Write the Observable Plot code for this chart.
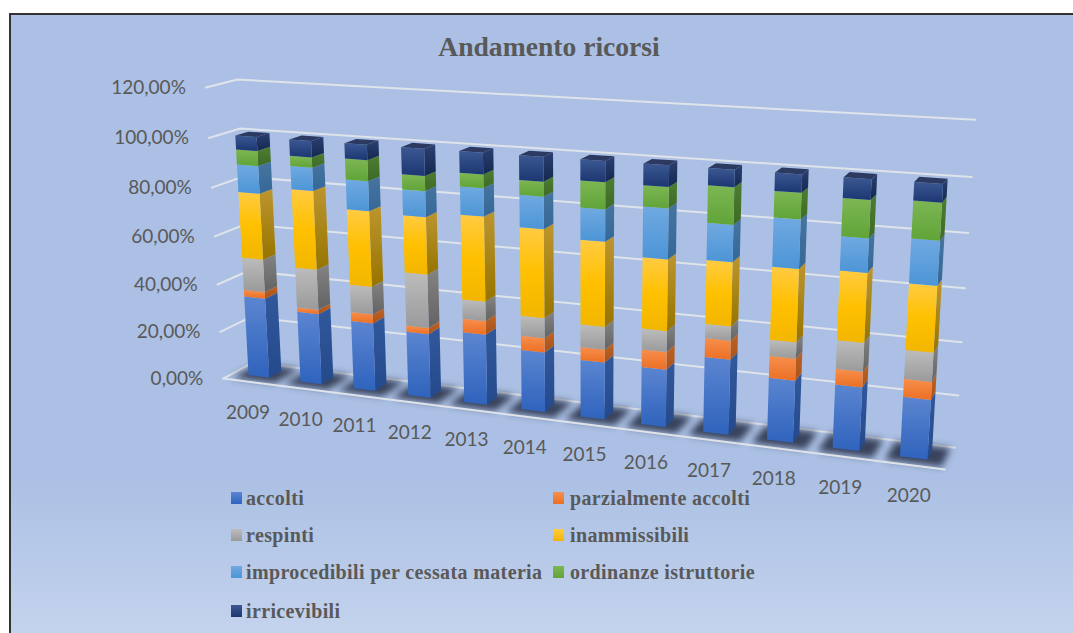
<!DOCTYPE html>
<html><head><meta charset="utf-8">
<script src="https://cdn.jsdelivr.net/npm/d3@7"></script>
<script src="https://cdn.jsdelivr.net/npm/@observablehq/plot@0.6"></script>
<style>
html,body{margin:0;padding:0;background:#fff}
#frame{position:absolute;left:9px;top:13px;width:1064px;height:620px;box-sizing:border-box;border-left:2px solid #333;border-top:2px solid #333;background:linear-gradient(180deg,#abc0e4 0%,#abc0e4 75%,#c4d3ed 100%)}
#chart{position:absolute;left:0;top:0}
#title{position:absolute;left:0;width:1098px;top:31px;text-align:center;font:bold 27.6px "Liberation Serif";color:#595959}
.lg{position:absolute;font:bold 20px "Liberation Serif";letter-spacing:.37px;color:#595959;white-space:nowrap}
.sw{position:absolute;width:11px;height:12px}
</style></head><body>
<div id="frame"></div><div id="chart"></div><div id="title">Andamento ricorsi</div><div id="legend"></div>
<script>
const years=[2009,2010,2011,2012,2013,2014,2015,2016,2017,2018,2019,2020];
const accolti=[33.7,29.6,28.2,26.3,28.6,24.0,22.7,22.6,29.2,23.9,24.2,22.4];
const parzialmente=[2.8,1.8,3.7,2.5,5.5,5.7,5.1,6.9,7.3,8.4,5.9,6.7];
const respinti=[13.5,16.6,11.3,21.6,7.7,8.0,8.9,8.1,5.4,6.1,10.7,10.7];
const inammissibili=[27.2,32.1,30.6,22.9,33.6,34.7,32.9,27.4,24.2,27.3,25.7,24.2];
const improcedibili=[11.2,9.3,11.9,10.2,11.0,12.5,12.3,19.1,13.8,18.1,12.4,16.1];
const ordinanze=[6.1,4.1,8.3,5.9,5.3,5.7,10.2,7.9,13.8,9.6,13.7,13.4];
const irricevibili=[5.6,6.5,6.0,10.6,8.3,9.4,7.9,8.0,6.3,6.6,7.4,6.5];
const yTicks=[0,20,40,60,80,100,120];
const tickLabels=["0,00%","20,00%","40,00%","60,00%","80,00%","100,00%","120,00%"];
const names=["accolti","parzialmente accolti","respinti","inammissibili","improcedibili per cessata materia","ordinanze istruttorie","irricevibili"];
const seriesValues=[accolti,parzialmente,respinti,inammissibili,improcedibili,ordinanze,irricevibili];
const frontStops=[["#5b85d0","#2f63bd"],["#f78f4c","#ec6f24"],["#bcbcbc","#9a9a9a"],["#ffcb42","#ffc000","#f2b600"],["#70a9e1","#4c95d6"],["#7db653","#60a438"],["#3c5892","#1b3670"]];
const sideStops=[["#32589c","#244a8c"],["#bd6426","#a9531a"],["#838383","#636363"],["#bc962e","#977400"],["#46749f","#356898"],["#4d7d33","#3e6a25"],["#2b4072","#14284f"]];
const topFill="#2c3a62";
const gridColor="#dfe3ea";
const textColor="#595959";
const t0=.33,t1=.75,bl=.3,br=.7;
// Camera of the 3-D chart box: category 0-12, value 0-120, depth 0-1
const C=[222.71751,583.04612,-26.67243,37.26627,378.03527,22.12515,-294.94481,-5.25006,-0.14674,-0.04547,0.02973];
const projection=d3.geoTransform({point(x,y,z=0){const u=x/12,v=y/120,t=z,w=1+C[8]*u+C[9]*v+C[10]*t;
this.stream.point((C[0]+C[1]*u+C[2]*v+C[3]*t)/w,(C[4]+C[5]*u+C[6]*v+C[7]*t)/w);}});
const poly=ring=>({type:"Polygon",coordinates:[[...ring,ring[0]]]});
const line=c=>({type:"LineString",coordinates:c});
const segs=[];
years.forEach((yr,i)=>{let base=0;seriesValues.forEach((vals,s)=>{const top=base+vals[i];segs.push({i,s,y0:base,y1:top});base=top;});});
const xl=d=>d.i+bl,xr=d=>d.i+br;
const marks=[];
marks.push(Plot.geo(yTicks,{geometry:v=>line([[0,v,0],[0,v,1],[12,v,1]]),stroke:gridColor,strokeWidth:2}));
marks.push(Plot.geo(years,{geometry:(d,i)=>poly([[i+.12,0,.1],[i+.94,0,.1],[i+.94,0,.95],[i+.12,0,.95]]),fill:"url(#shadow)"}));
marks.push(Plot.geo([0],{geometry:()=>line([[0,0,0],[12,0,0]]),stroke:gridColor,strokeWidth:2}));
seriesValues.forEach((vals,s)=>{const D=segs.filter(d=>d.s===s);
marks.push(Plot.geo(D,{geometry:d=>poly([[xr(d),d.y0,t0],[xr(d),d.y0,t1],[xr(d),d.y1,t1],[xr(d),d.y1,t0]]),fill:`url(#side${s})`}));
marks.push(Plot.geo(D,{geometry:d=>poly([[xl(d),d.y0,t0],[xr(d),d.y0,t0],[xr(d),d.y1,t0],[xl(d),d.y1,t0]]),fill:`url(#front${s})`}));
});
marks.push(Plot.geo(segs.filter(d=>d.s===6),{geometry:d=>poly([[xl(d),d.y1,t0],[xr(d),d.y1,t0],[xr(d),d.y1,t1],[xl(d),d.y1,t1]]),fill:topFill}));
marks.push(Plot.text(yTicks,{x:()=>0,y:v=>v,text:(v,i)=>tickLabels[i],textAnchor:"end",dx:-20,fontSize:19,fontFamily:"Lato",fill:textColor}));
marks.push(Plot.text(years,{x:(d,i)=>i+.5,y:()=>0,text:d=>String(d),dx:-1,dy:31,fontSize:19,fontFamily:"Lato",fill:textColor}));
const svg=Plot.plot({width:1073,height:633,margin:0,projection,style:{background:"transparent"},marks});
const sel=d3.select(svg);const defs=sel.insert("defs",":first-child");
const grad=(id,stops)=>{const g=defs.append("linearGradient").attr("id",id).attr("x1",0).attr("y1",0).attr("x2",0).attr("y2",1);stops.forEach((c,k)=>g.append("stop").attr("offset",k/(stops.length-1)).attr("stop-color",c));};
frontStops.forEach((c,s)=>grad("front"+s,c));sideStops.forEach((c,s)=>grad("side"+s,c));grad("shadow",["#39435c","#39435c"]);
defs.append("filter").attr("id","blur").attr("x","-30%").attr("y","-50%").attr("width","160%").attr("height","200%").append("feGaussianBlur").attr("stdDeviation",3.5);
sel.selectAll('g[fill="url(#shadow)"]').attr("filter","url(#blur)");
document.getElementById("chart").append(svg);
const lg=document.getElementById("legend");
const rowsY=[498,535,572,611],colsX=[231,553],textGap=[15,17];
names.forEach((n,k)=>{const c=k%2,cx=colsX[c],cy=rowsY[Math.floor(k/2)];
const sw=document.createElement("div");sw.className="sw";sw.style.cssText=`left:${cx}px;top:${cy-6}px;background:linear-gradient(180deg,${frontStops[k][0]},${frontStops[k][frontStops[k].length-1]})`;lg.append(sw);
const t=document.createElement("div");t.className="lg";t.textContent=n;t.style.cssText=`left:${cx+textGap[c]}px;top:${cy-11}px`;lg.append(t);});
</script></body></html>
